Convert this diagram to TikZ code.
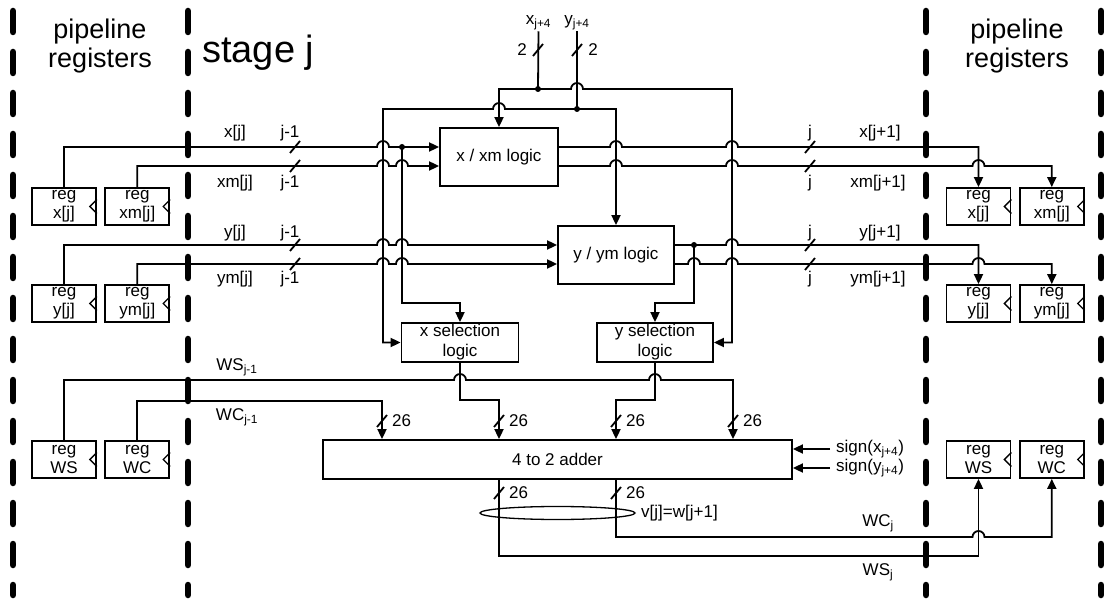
\documentclass[tikz,border=0pt]{standalone}
\usepackage{fontspec}
\setmainfont{Liberation Sans}
\usepackage{tikz}
\usetikzlibrary{arrows.meta, positioning, shapes.geometric}

\newcommand{\lbl}{\fontsize{17}{20}\selectfont}
\newcommand{\regf}{\fontsize{17}{19}\selectfont}
% hop of a horizontal wire over a vertical one at (x,y)
\newcommand{\hop}[2]{-- (#1-6,#2) arc[start angle=180, end angle=0, radius=6pt]}
% bus width slash
\newcommand{\bus}[2]{\draw[wire] (#1-5,#2+6) -- (#1+5,#2-6);}

\begin{document}
\begin{tikzpicture}[x=1pt, y=-1pt,
    wire/.style={line width=1.8pt},
    >={Triangle[length=10pt, width=9pt]},
    logic/.style={rectangle, draw, line width=1.8pt, inner sep=1pt, align=center, font=\lbl},
    reg/.style={rectangle, draw, line width=1.8pt, minimum width=64pt, minimum height=37pt, inner sep=0pt, align=center, font=\regf},
    sep/.style={line width=6.5pt, line cap=round, dash pattern=on 21pt off 20pt},
    lab/.style={font=\lbl, inner sep=1pt},
    hdr/.style={align=center, font=\fontsize{27}{29}\selectfont}
  ]
    \useasboundingbox (0,0) rectangle (1108,601);

    % Separators
    \foreach \sx in {13,188,926,1101}
      \draw[sep] (\sx,11) -- (\sx,595);

    % Headers
    \node (hdrL) [hdr] at (100,46) {pipeline\\registers};
    \node (hdrR) [hdr] at (1017,46) {pipeline\\registers};
    \node (stage) [font=\fontsize{38}{40}\selectfont, anchor=base west, inner sep=0pt] at (202,63) {stage j};

    % Blocks
    \node (xlog) [logic, minimum width=118pt, minimum height=58pt] at (499,157) {x / xm logic};
    \node (ylog) [logic, minimum width=116pt, minimum height=58pt] at (616,255) {y / ym logic};
    \node (xsel) [logic, minimum width=117pt, minimum height=39pt] at (460,342.5) {x selection\\logic};
    \node (ysel) [logic, minimum width=116pt, minimum height=39pt] at (655,342.5) {y selection\\logic};
    \node (adder) [logic, minimum width=469pt, minimum height=39pt] at (557.5,459.5) {4 to 2 adder};

    % Registers
    \node (rxL) [reg] at (64,206.5) {reg\\x[j]};
    \node (rxmL) [reg, right=7.5pt of rxL] {reg\\xm[j]};
    \node (ryL) [reg] at (64,303.5) {reg\\y[j]};
    \node (rymL) [reg, right=7.5pt of ryL] {reg\\ym[j]};
    \node (rwsL) [reg] at (64,459.5) {reg\\WS};
    \node (rwcL) [reg, right=7.5pt of rwsL] {reg\\WC};
    \node (rxR) [reg] at (978.5,206.5) {reg\\x[j]};
    \node (rxmR) [reg, right=7.5pt of rxR] {reg\\xm[j]};
    \node (ryR) [reg] at (978.5,303.5) {reg\\y[j]};
    \node (rymR) [reg, right=7.5pt of ryR] {reg\\ym[j]};
    \node (rwsR) [reg] at (978.5,459.5) {reg\\WS};
    \node (rwcR) [reg, right=7.5pt of rwsR] {reg\\WC};
    \foreach \r in {rxL,rxmL,ryL,rymL,rwsL,rwcL,rxR,rxmR,ryR,rymR,rwsR,rwcR}
      \draw[line width=1.3pt] ([yshift=7pt]\r.east) -- ++(-7,7) -- ++(7,7);

    % Top inputs
    \node (xin) [lab] at (538.5,23) {x\textsubscript{j+4}};
    \node (yin) [lab] at (577,23) {y\textsubscript{j+4}};
    \node (nx) [lab] at (522,50) {2};
    \node (ny) [lab] at (593,50) {2};
    \coordinate (xjn) at (538,89);
    \coordinate (yjn) at (577,109);
    \coordinate (xtap) at (402,147);
    \coordinate (ytap) at (694,245);

    % Wire labels
    \node (lxj) [lab] at (235,133) {x[j]};
    \node (lxi) [lab] at (290,133) {j-1};
    \node (lxmj) [lab] at (235,183) {xm[j]};
    \node (lxmi) [lab] at (290,183) {j-1};
    \node (lyj) [lab] at (235,233) {y[j]};
    \node (lyi) [lab] at (290,233) {j-1};
    \node (lymj) [lab] at (235,279) {ym[j]};
    \node (lymi) [lab] at (290,279) {j-1};
    \node (lws) [lab] at (237,367) {WS\textsubscript{j-1}};
    \node (lwc) [lab] at (237,417) {WC\textsubscript{j-1}};
    \node (lxo) [lab] at (810,133) {j};
    \node (lxn) [lab] at (880,133) {x[j+1]};
    \node (lxmo) [lab] at (810,183) {j};
    \node (lxmn) [lab] at (878,183) {xm[j+1]};
    \node (lyo) [lab] at (810,233) {j};
    \node (lyn) [lab] at (880,233) {y[j+1]};
    \node (lymo) [lab] at (810,279) {j};
    \node (lymn) [lab] at (878,279) {ym[j+1]};
    \node (lwcj) [lab] at (878,523) {WC\textsubscript{j}};
    \node (lwsj) [lab] at (878,572) {WS\textsubscript{j}};
    \foreach \bx in {382,499,616,733}
      \node [lab, anchor=west] at (\bx+9,421) {26};
    \foreach \bx in {499,616}
      \node [lab, anchor=west] at (\bx+9,493) {26};
    \node (vw) [lab, anchor=west] at (640,513) {v[j]=w[j+1]};
    \node (sgx) [lab, anchor=west, inner xsep=6pt] at (830,449) {sign(x\textsubscript{j+4})};
    \node (sgy) [lab, anchor=west, inner xsep=6pt] at (830,468) {sign(y\textsubscript{j+4})};

    % Inputs of stage j
    \draw[wire,->] (rxL.north) -- (rxL.north |- xtap) \hop{383}{147} -- (xlog.west |- xtap);
    \draw[wire,->] (rxmL.north) -- (rxmL.north |- 0,166) \hop{383}{166} \hop{402}{166} -- (xlog.west |- 0,166);
    \draw[wire,->] (ryL.north) -- (ryL.north |- ytap) \hop{383}{245} \hop{402}{245} -- (ylog.west |- ytap);
    \draw[wire,->] (rymL.north) -- (rymL.north |- 0,264) \hop{383}{264} \hop{402}{264} -- (ylog.west |- 0,264);

    % Outputs to next registers
    \draw[wire,->] (xlog.east |- xtap) \hop{616}{147} \hop{732}{147} -| (rxR.north);
    \draw[wire,->] (xlog.east |- 0,166) \hop{616}{166} \hop{732}{166} \hop{978.5}{166} -| (rxmR.north);
    \draw[wire,->] (ylog.east |- ytap) \hop{732}{245} -| (ryR.north);
    \draw[wire,->] (ylog.east |- 0,264) \hop{694}{264} \hop{732}{264} \hop{978.5}{264} -| (rymR.north);

    % x_{j+4}, y_{j+4}
    \draw[wire] (xin.south) -- (xjn);
    \draw[wire] (yin.south) -- (yjn);
    \draw[wire,<->] (xlog.north) |- (xjn) \hop{577}{89} -- (732,89) |- (ysel.east);
    \draw[wire,<->] (xsel.west) -| (383,109) \hop{499}{109} -| (ylog.north);
    \fill (xjn) circle (3pt);
    \fill (yjn) circle (3pt);

    % Taps to selection logic
    \draw[wire,->] (xtap) |- (xsel.north |- 0,303) -- (xsel.north);
    \draw[wire,->] (ytap) |- (ysel.north |- 0,303) -- (ysel.north);
    \fill (xtap) circle (3pt);
    \fill (ytap) circle (3pt);

    % Adder inputs
    \draw[wire,->] (xsel.south) |- (499,400) -- (adder.north -| 499,0);
    \draw[wire,->] (ysel.south) |- (616,400) -- (adder.north -| 616,0);
    \draw[wire,->] (rwsL.north) -- (rwsL.north |- 0,380) \hop{460}{380} \hop{655}{380} -| (adder.north -| 733,0);
    \draw[wire,->] (rwcL.north) -- (rwcL.north |- 0,401) -| (adder.north -| 382,0);
    \draw[wire,->] (sgx.west) -- (adder.east |- sgx.west);
    \draw[wire,->] (sgy.west) -- (adder.east |- sgy.west);

    % Adder outputs
    \draw[wire,->] (adder.south -| 499,0) -- (499,556) -| (rwsR.south);
    \draw[wire,->] (adder.south -| 616,0) -- (616,537) \hop{978.5}{537} -| (rwcR.south);
    \node (vbus) [draw, ellipse, line width=1.3pt, minimum width=155pt, minimum height=13pt, inner sep=0pt] at (557.5,513) {};

    % Bus widths
    \foreach \by in {147,166,245,264} {
      \bus{295}{\by}
      \bus{810}{\by}
    }
    \bus{538}{50}
    \bus{577}{50}
    \foreach \bx in {382,499,616,733} {
      \bus{\bx}{421}
    }
    \bus{499}{493}
    \bus{616}{493}
  \end{tikzpicture}
\end{document}
